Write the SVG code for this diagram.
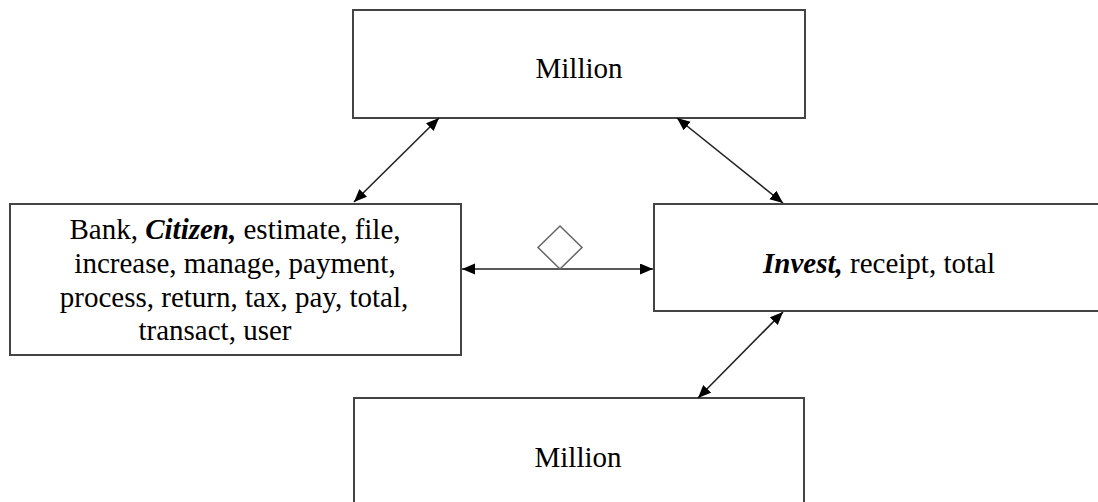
<svg xmlns="http://www.w3.org/2000/svg" width="1098" height="502" viewBox="0 0 1098 502">
<style>
.box{fill:#fff;stroke:#444;stroke-width:2}
.t{font-family:Liberation Serif, serif;font-size:29px;fill:#000;text-anchor:middle}
.bi{font-weight:bold;font-style:italic}
.c{stroke:#222;stroke-width:1.6;fill:none;marker-start:url(#ah);marker-end:url(#ah)}
</style>
<defs>
<marker id="ah" markerUnits="userSpaceOnUse" markerWidth="14" markerHeight="12" refX="13" refY="5.5" orient="auto-start-reverse">
<path d="M0,0 L13,5.5 L0,11 z" fill="#000"/>
</marker>
</defs>
<rect width="1098" height="502" fill="#fff"/>
<g id="node-top">
<rect class="box" x="353" y="10" width="452" height="108"/>
<text class="t" x="579" y="78">Million</text>
</g>
<g id="node-left">
<rect class="box" x="10" y="204" width="451" height="151"/>
<text class="t" x="235" y="239">Bank, <tspan class="bi">Citizen,</tspan> estimate, file,</text>
<text class="t" x="235" y="273">increase, manage, payment,</text>
<text class="t" x="234" y="307">process, return, tax, pay, total,</text>
<text class="t" x="215" y="340">transact, user</text>
</g>
<g id="node-right">
<rect class="box" x="654" y="204" width="452" height="107"/>
<text class="t" x="879" y="273"><tspan class="bi">Invest,</tspan> receipt, total</text>
</g>
<g id="node-bottom">
<rect class="box" x="354" y="398" width="450" height="110"/>
<text class="t" x="578" y="467">Million</text>
</g>
<g id="connectors">
<line class="c" x1="354" y1="202" x2="439" y2="118"/>
<line class="c" x1="677" y1="118" x2="783" y2="203"/>
<line class="c" x1="783" y1="312" x2="698" y2="398"/>
<line class="c" x1="462" y1="269" x2="653" y2="269"/>
<path d="M560,226 L582,247.5 L560,269 L538,247.5 Z" fill="#fff" stroke="#666" stroke-width="1.5"/>
</g>
</svg>
